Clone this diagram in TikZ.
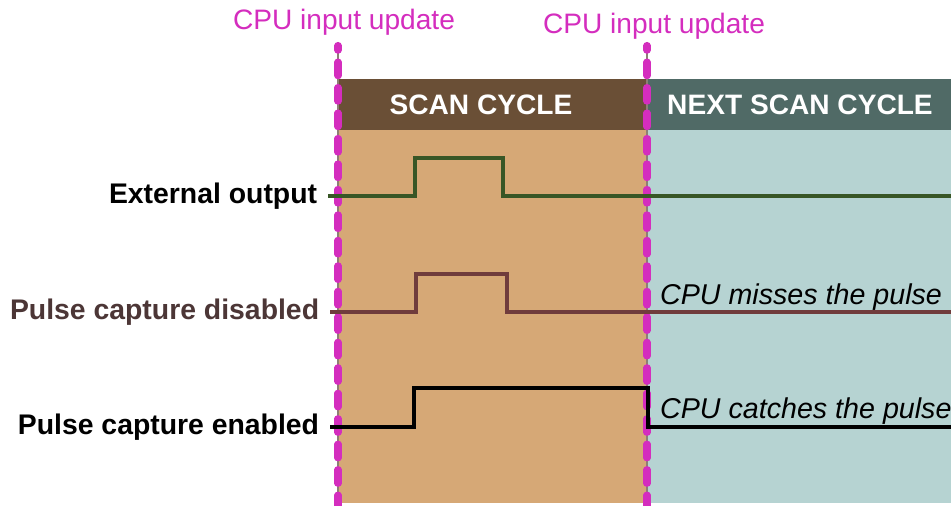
\documentclass[tikz,border=0pt]{standalone}
\usepackage{fontspec}
\setmainfont{Liberation Sans}
\usepackage{tikz}
\usetikzlibrary{positioning}
\definecolor{scanhead}{RGB}{106,79,54}
\definecolor{nexthead}{RGB}{80,106,102}
\definecolor{scanbody}{RGB}{214,168,118}
\definecolor{nextbody}{RGB}{182,211,210}
\definecolor{updmag}{RGB}{212,45,190}
\definecolor{extgreen}{RGB}{56,86,38}
\definecolor{disred}{RGB}{112,60,60}
\definecolor{dislabel}{RGB}{76,54,54}
\tikzstyle{siglabel} = [anchor=east, inner xsep=6pt, font=\fontsize{16.15}{19}\selectfont\bfseries]
\tikzstyle{note} = [anchor=west, font=\fontsize{16.3}{19}\selectfont\itshape]
\tikzstyle{headtext} = [text=white, font=\fontsize{16}{19}\selectfont\bfseries]
\tikzstyle{updtext} = [text=updmag, font=\fontsize{16}{19}\selectfont]
\tikzstyle{update} = [updmag, line width=4pt, line cap=round, dash pattern=on 7.8pt off 6.7pt, dash phase=5.1pt]
\tikzstyle{sigline} = [line width=2.3pt, line join=miter]

\begin{document}
\begin{tikzpicture}[x=0.02cm, y=-0.02cm]
\useasboundingbox (0,0) rectangle (951,506);
% cycle bands
\fill [scanbody] (338,130) rectangle (646,503);
\fill [nextbody] (646,130) rectangle (951,503);
\fill [scanhead] (338,79) rectangle (646,130);
\fill [nexthead] (646,79) rectangle (951,130);
\node (scan) [headtext] at (481,105) {SCAN CYCLE};
\node (next) [headtext] at (800,105) {NEXT SCAN CYCLE};

% input updates
\node (upd1) [updtext] at (344,22) {CPU input update};
\node (upd2) [updtext] at (654,26) {CPU input update};
\coordinate (u1top) at (338,45.5);
\coordinate (u1bot) at (338,510);
\coordinate (u2top) at (647,45.5);
\coordinate (u2bot) at (647,510);
\draw [gray!80!brown, line width=0.6pt] (338,42) -- (338,506);
\draw [gray!80!brown, line width=0.6pt] (647,42) -- (647,506);
\draw [update] (u1top) -- (u1bot);
\draw [update] (u2top) -- (u2bot);

% signals
\node (ext) [siglabel, text=black] at (328,196) {External output};
\node (dis) [siglabel, text=dislabel] at (330,312) {Pulse capture disabled};
\node (ena) [siglabel, text=black] at (330,427) {Pulse capture enabled};
\draw [sigline, extgreen] (ext.east) -- (415,196) -- (415,158) -- (503,158) -- (503,196) -- (953,196);
\draw [sigline, disred] (dis.east) -- (416,312) -- (416,274) -- (507,274) -- (507,312) -- (953,312);
\draw [sigline, black] (ena.east) -- (414,427) -- (414,388) -- (648,388) -- (648,427) -- (953,427);

% notes
\node (miss) [note] at (654,297) {CPU misses the pulse};
\node (catch) [note] at (654,411) {CPU catches the pulse};
\end{tikzpicture}
\end{document}
